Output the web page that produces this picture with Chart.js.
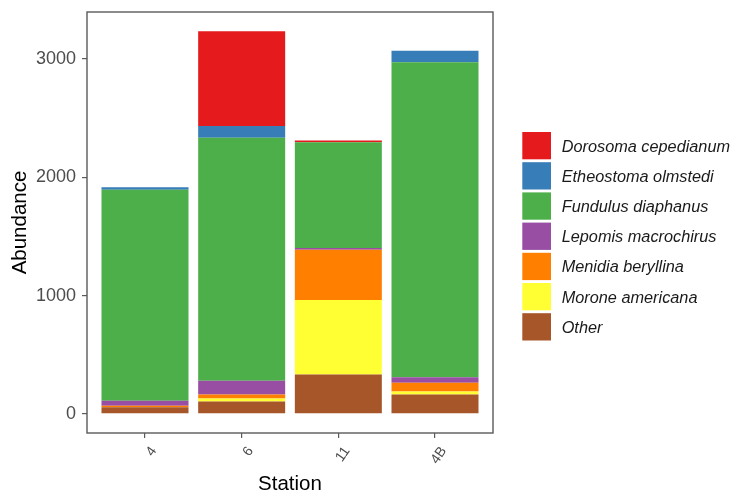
<!DOCTYPE html>
<html>
<head>
<meta charset="utf-8">
<script src="https://cdn.jsdelivr.net/npm/chart.js@4/dist/chart.umd.min.js"></script>
<style>
  html, body { margin: 0; padding: 0; background: #ffffff; }
  canvas { display: block; }
</style>
</head>
<body>
<canvas id="chart" width="737" height="496"></canvas>
<script>
// Fish abundance per station, stacked by species (bottom to top)
const stations = ['4', '6', '11', '4B'];
const other              = [55, 105, 332, 164];
const moroneAmericana    = [0, 25, 630, 25];
const menidiaBeryllina   = [14, 34, 426, 73];
const lepomisMacrochirus = [42, 115, 15, 47];
const fundulusDiaphanus  = [1784, 2055, 893, 2662];
const etheostomaOlmstedi = [20, 100, 0, 98];
const dorosomaCepedianum = [0, 801, 15, 0];
const yTicks = [0, 1000, 2000, 3000];

// ColorBrewer Set1
const layers = [
  { label: 'Other',               values: other,              color: '#A65628' },
  { label: 'Morone americana',    values: moroneAmericana,    color: '#FFFF33' },
  { label: 'Menidia beryllina',   values: menidiaBeryllina,   color: '#FF7F00' },
  { label: 'Lepomis macrochirus', values: lepomisMacrochirus, color: '#984EA3' },
  { label: 'Fundulus diaphanus',  values: fundulusDiaphanus,  color: '#4DAF4A' },
  { label: 'Etheostoma olmstedi', values: etheostomaOlmstedi, color: '#377EB8' },
  { label: 'Dorosoma cepedianum', values: dorosomaCepedianum, color: '#E41A1C' }
];

const totals = stations.map((_, i) => layers.reduce((s, l) => s + l.values[i], 0));
const maxTotal = Math.max(...totals);

const FONT = '"Liberation Sans", Arial, sans-serif';

// Panel border, rotated station labels and the species key
const decorations = {
  id: 'decorations',
  afterDraw(chart) {
    const ctx = chart.ctx;
    const a = chart.chartArea;
    ctx.save();
    ctx.strokeStyle = '#5a5a5a';
    ctx.lineWidth = 1.4;
    ctx.strokeRect(a.left, a.top, a.right - a.left, a.bottom - a.top);

    const xs = chart.scales.x;
    ctx.fillStyle = '#4D4D4D';
    ctx.font = '14px ' + FONT;
    ctx.textAlign = 'right';
    ctx.textBaseline = 'middle';
    stations.forEach((s, i) => {
      const px = xs.getPixelForValue(i + 1);
      ctx.save();
      ctx.translate(px + 8.8, xs.top + 15.5);
      ctx.rotate(-55 * Math.PI / 180);
      ctx.fillText(s, 0, 0);
      ctx.restore();
    });

    const keyX = 522.3, keyY = 132, keyW = 28.7, keyH = 27.3, pitch = 30.2;
    ctx.textAlign = 'left';
    ctx.font = 'italic 16.3px ' + FONT;
    chart.data.datasets.slice().reverse().forEach((ds, k) => {
      const y = keyY + k * pitch;
      ctx.fillStyle = ds.backgroundColor;
      ctx.fillRect(keyX, y, keyW, keyH);
      ctx.fillStyle = '#1a1a1a';
      ctx.fillText(ds.label, keyX + keyW + 10.7, y + keyH / 2 + 1.5);
    });
    ctx.restore();
  }
};

new Chart(document.getElementById('chart'), {
  type: 'bar',
  data: {
    datasets: layers.map(l => ({
      label: l.label,
      data: l.values.map((v, i) => ({ x: i + 1, y: v })),
      backgroundColor: l.color,
      borderWidth: 0,
      grouped: false,
      categoryPercentage: 1,
      barPercentage: 0.9
    }))
  },
  options: {
    responsive: false,
    animation: false,
    devicePixelRatio: 1,
    layout: { padding: { left: 0, top: 12, right: 244, bottom: 0 } },
    plugins: { legend: { display: false }, tooltip: { enabled: false } },
    scales: {
      x: {
        type: 'linear',
        offset: false,
        min: 0.4,
        max: stations.length + 0.6,
        afterBuildTicks: s => { s.ticks = stations.map((_, i) => ({ value: i + 1 })); },
        afterFit: s => { s.height = 63; s.paddingLeft = 0; s.paddingRight = 0; },
        ticks: { display: false },
        grid: { offset: false, drawOnChartArea: false, drawTicks: true, tickLength: 5, color: '#5a5a5a', lineWidth: 1.2 },
        border: { display: false },
        title: {
          display: true, text: 'Station', color: '#000000',
          font: { family: FONT, size: 20.5, lineHeight: 1.1 },
          padding: { top: 0, bottom: 0 }
        }
      },
      y: {
        stacked: true,
        min: -0.05 * maxTotal,
        max: 1.05 * maxTotal,
        afterBuildTicks: s => { s.ticks = yTicks.map(v => ({ value: v })); },
        afterFit: s => { s.width = 87; s.paddingTop = 0; s.paddingBottom = 0; },
        ticks: { color: '#4D4D4D', padding: 6, font: { family: FONT, size: 18 }, callback: v => String(v) },
        grid: { drawOnChartArea: false, drawTicks: true, tickLength: 5, color: '#5a5a5a', lineWidth: 1.2 },
        border: { display: false },
        title: {
          display: true, text: 'Abundance', color: '#000000',
          font: { family: FONT, size: 20.5 },
          padding: { top: 8.5, bottom: 0 }
        }
      }
    }
  },
  plugins: [decorations]
});
</script>
</body>
</html>
